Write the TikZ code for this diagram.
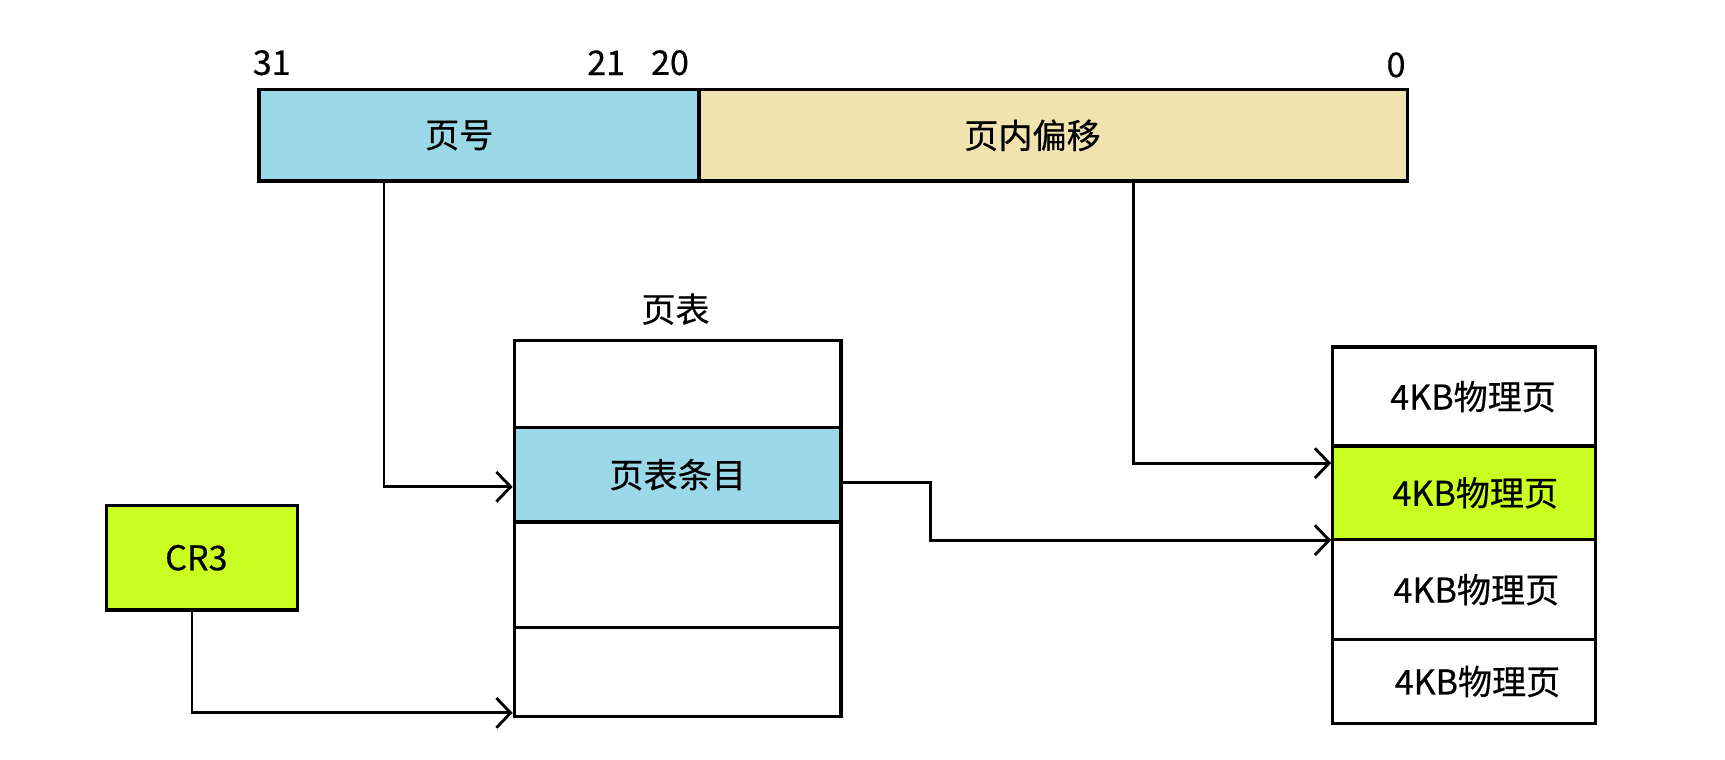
\documentclass[tikz,border=0pt]{standalone}
\usepackage{fontspec}
\setmainfont{Noto Sans CJK SC}[FakeBold=0.5]
\usetikzlibrary{arrows.meta}
\definecolor{pnblue}{HTML}{9BD9E9}
\definecolor{offtan}{HTML}{F0E3B0}
\definecolor{limeg}{HTML}{C9FF21}
\begin{document}
\begin{tikzpicture}[x=1pt,y=-1pt,
 cell/.style={draw, line width=3pt, inner sep=0pt, anchor=north west, font=\fontsize{31}{36}\selectfont},
 lbl/.style={font=\fontsize{31}{36}\selectfont, inner sep=0pt},
 conn/.style={line width=2.6pt, -{Straight Barb[length=13pt,width=27pt,line width=2.6pt]}},
]
\useasboundingbox (0,0) rectangle (1568,690);
% address bar
\node[cell, fill=pnblue, minimum width=400pt, minimum height=83pt] (pn) at (234,80) {页号\hspace*{36pt}};
\node[cell, fill=offtan, minimum width=644pt, minimum height=83pt] (off) at (634,80) {页内偏移\hspace*{38pt}};
\node[lbl] (b31) at (247,57) {31};
\node[lbl] (b21) at (551,57) {21};
\node[lbl] (b20) at (609,57) {20};
\node[lbl] (b0) at (1269,59) {0};
% page table
\node[lbl] (pttitle) at (614,281) {页表};
\node[cell, fill=white, minimum width=297pt, minimum height=79pt] (pt1) at (466,308) {};
\node[cell, fill=pnblue, minimum width=297pt, minimum height=86pt] (pte) at (466,387) {页表条目};
\node[cell, fill=white, minimum width=297pt, minimum height=96pt] (pt3) at (466,473) {};
\node[cell, fill=white, minimum width=297pt, minimum height=81pt] (pt4) at (466,569) {};
% CR3
\node[cell, fill=limeg, minimum width=174pt, minimum height=95pt] (cr3) at (95,458) {CR3\hspace*{10pt}};
% physical pages
\node[cell, fill=white, minimum width=239pt, minimum height=90pt] (ph1) at (1210,314) {\hspace*{16pt}4KB物理页};
\node[cell, fill=limeg, minimum width=239pt, minimum height=85pt] (ph2) at (1210,404) {\hspace*{20pt}4KB物理页};
\node[cell, fill=white, minimum width=239pt, minimum height=91pt] (ph3) at (1210,489) {\hspace*{22pt}4KB物理页};
\node[cell, fill=white, minimum width=239pt, minimum height=76pt] (ph4) at (1210,580) {\hspace*{24pt}4KB物理页};
% connectors
\draw[conn] ([xshift=115pt]pn.south west) |- ([yshift=-11pt]pte.west);
\draw[conn] ([xshift=-9pt]cr3.south) |- ([yshift=5pt]pt4.south west);
\draw[conn] ([xshift=396pt]off.south west) |- ([yshift=-17pt]ph2.north west);
\draw[conn] ([yshift=-7pt]pte.east) -- ++(80pt,0) |- ([yshift=1pt]ph2.south west);
\end{tikzpicture}
\end{document}
